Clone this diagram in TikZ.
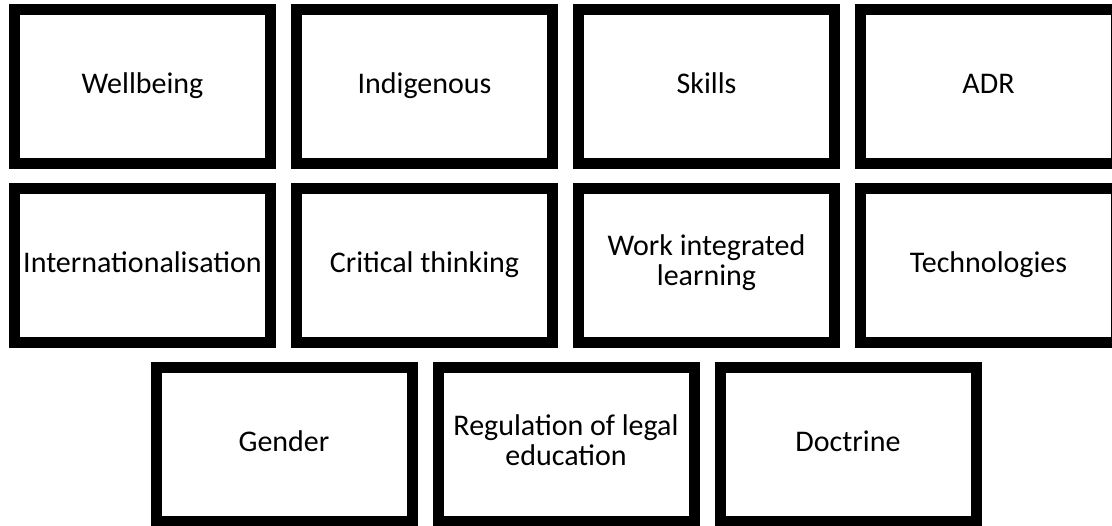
\documentclass[tikz,border=0pt]{standalone}
\usepackage{fontspec}
\setmainfont{Carlito}
\usepackage{tikz}
\tikzset{topicbox/.style={draw, line width=11pt, fill=white, minimum width=256pt,
    minimum height=154pt, align=center, inner sep=0pt,
    text height=22pt, text depth=8pt,
    font=\fontsize{30}{30}\selectfont},
  twolines/.style={text depth=-8pt, text height=41pt}}

\begin{document}
\begin{tikzpicture}[x=1pt,y=-1pt]
          \useasboundingbox (0,0) rectangle (1112,526);
          \def\pitch{282}
          % first row
          \node[topicbox] (wellbeing) at (142.5,86.75) {Wellbeing};
          \node[topicbox] (indigenous) at (142.5+\pitch,86.75) {Indigenous};
          \node[topicbox] (skills) at (142.5+2*\pitch,86.75) {Skills};
          \node[topicbox] (adr) at (142.5+3*\pitch,86.75) {ADR};
          % second row
          \node[topicbox] (intl) at (142.5,265.5) {Internationalisation};
          \node[topicbox] (critical) at (142.5+\pitch,265.5) {Critical thinking};
          \node[topicbox,twolines] (wil) at (142.5+2*\pitch,265.5) {Work integrated\\learning};
          \node[topicbox] (tech) at (142.5+3*\pitch,265.5) {Technologies};
          % third row
          \node[topicbox] (gender) at (284,445) {Gender};
          \node[topicbox,twolines] (regulation) at (284+\pitch,445) {Regulation of legal\\education};
          \node[topicbox] (doctrine) at (284+2*\pitch,445) {Doctrine};
        \end{tikzpicture}
\end{document}
